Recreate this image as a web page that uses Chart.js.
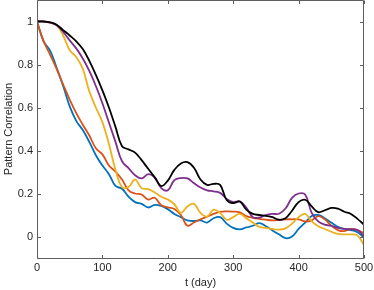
<!DOCTYPE html>
<html><head><meta charset="utf-8">
<script src="https://cdn.jsdelivr.net/npm/chart.js@4"></script>
<style>html,body{margin:0;padding:0;background:#fff}#wrap{width:374px;height:290px;position:relative}</style>
</head><body><div id="wrap"><canvas id="c"></canvas></div>
<script>
const days = [0,10,20,30,40,50,60,70,80,90,100,110,120,130,140,150,160,170,180,190,200,210,220,230,240,250,260,270,280,290,300,310,320,330,340,350,360,370,380,390,400,410,420,430,440,450,460,470,480,490,500];
const seriesBlue = [1.0,0.908,0.865,0.785,0.70,0.605,0.538,0.495,0.44,0.378,0.33,0.29,0.235,0.222,0.185,0.16,0.152,0.135,0.147,0.142,0.127,0.105,0.09,0.075,0.072,0.075,0.065,0.085,0.09,0.06,0.04,0.033,0.042,0.05,0.062,0.048,0.028,0.01,-0.008,0.0,0.035,0.065,0.095,0.1,0.085,0.065,0.045,0.035,0.03,0.02,-0.005];
const seriesOrange = [1.0,0.91,0.846,0.78,0.707,0.637,0.574,0.52,0.47,0.41,0.382,0.33,0.302,0.265,0.215,0.2,0.195,0.172,0.18,0.145,0.135,0.128,0.10,0.05,0.065,0.08,0.092,0.105,0.115,0.117,0.116,0.112,0.095,0.087,0.082,0.078,0.075,0.077,0.08,0.08,0.08,0.07,0.075,0.095,0.08,0.05,0.03,0.025,0.035,0.03,0.015];
const seriesYellow = [1.0,1.0,0.995,0.983,0.935,0.866,0.835,0.78,0.675,0.6,0.532,0.43,0.31,0.23,0.23,0.265,0.225,0.22,0.205,0.185,0.172,0.15,0.11,0.14,0.152,0.11,0.093,0.125,0.11,0.078,0.09,0.105,0.085,0.065,0.045,0.04,0.035,0.032,0.038,0.06,0.09,0.105,0.07,0.048,0.035,0.022,0.012,0.01,0.01,0.005,-0.04];
const seriesPurple = [1.0,1.0,0.995,0.982,0.952,0.912,0.875,0.828,0.77,0.70,0.62,0.53,0.44,0.35,0.318,0.285,0.27,0.29,0.275,0.225,0.215,0.262,0.272,0.27,0.248,0.228,0.215,0.21,0.203,0.175,0.16,0.163,0.135,0.09,0.088,0.10,0.105,0.106,0.13,0.18,0.2,0.195,0.11,0.07,0.055,0.05,0.04,0.035,0.033,0.03,0.0];
const seriesBlack = [1.0,1.0,0.996,0.985,0.96,0.935,0.908,0.872,0.817,0.752,0.68,0.60,0.51,0.42,0.405,0.39,0.355,0.315,0.275,0.235,0.26,0.31,0.34,0.346,0.32,0.265,0.24,0.245,0.24,0.17,0.155,0.163,0.125,0.105,0.10,0.096,0.09,0.078,0.085,0.12,0.16,0.171,0.14,0.113,0.122,0.133,0.13,0.115,0.105,0.082,0.055];
const xTicks = [0,100,200,300,400,500];
const yTicks = [0,0.2,0.4,0.6,0.8,1];
const yTickLabels = ['0','0.2','0.4','0.6','0.8','1'];

const FONT = 'Liberation Sans, Arial, Helvetica, sans-serif';
const TXT = '#262626';
const AX = '#5e5e5e';

function mk(label, vals, color, order){
  return {label, data: days.map((d,i)=>({x:d, y:vals[i]})), borderColor: color, backgroundColor: color,
    borderWidth: 1.8, pointRadius: 0, tension: 0.4, fill: false, order};
}

const boxPlugin = {
  id: 'box',
  afterDatasetsDraw(chart){
    const {ctx, chartArea: ca, scales: {x, y}} = chart;
    const L = Math.round(ca.left)+0.5, R = Math.round(ca.right)-0.5, T = Math.round(ca.top)+0.5, B = Math.round(ca.bottom)+0.5;
    ctx.save();
    ctx.strokeStyle = AX; ctx.lineWidth = 1;
    ctx.beginPath();
    ctx.moveTo(L,T); ctx.lineTo(R,T); ctx.lineTo(R,B); ctx.lineTo(L,B); ctx.closePath();
    const tl = 3.5;
    xTicks.forEach(v=>{ const px = Math.round(x.getPixelForValue(v))+0.5; ctx.moveTo(px,B); ctx.lineTo(px,B-tl); ctx.moveTo(px,T); ctx.lineTo(px,T+tl); });
    yTicks.forEach(v=>{ const py = Math.round(y.getPixelForValue(v))+0.5; ctx.moveTo(L,py); ctx.lineTo(L+tl,py); ctx.moveTo(R,py); ctx.lineTo(R-tl,py); });
    ctx.stroke();
    ctx.restore();
  }
};

new Chart(document.getElementById('c'), {
  type: 'line',
  data: { datasets: [
    mk('Series 1', seriesBlue, '#0072BD', 5),
    mk('Series 2', seriesOrange, '#D95319', 4),
    mk('Series 3', seriesYellow, '#EDB120', 3),
    mk('Series 4', seriesPurple, '#7E2F8E', 2),
    mk('Series 5', seriesBlack, '#000000', 1)
  ]},
  options: {
    responsive: true, maintainAspectRatio: false, animation: false, devicePixelRatio: 1,
    layout: { padding: { top: 0, right: 10, left: 0, bottom: 0 } },
    plugins: { legend: { display: false }, tooltip: { enabled: false } },
    scales: {
      x: {
        type: 'linear', min: 0, max: 500,
        afterBuildTicks(s){ s.ticks = xTicks.map(v=>({value:v})); },
        afterFit(s){ s.height = 32; s.paddingLeft = 0; s.paddingRight = 0; },
        grid: { display: false, drawTicks: false }, border: { display: false },
        ticks: { color: TXT, font: { family: FONT, size: 11 }, padding: 3, maxRotation: 0, autoSkip: false },
        title: { display: true, text: 't (day)', color: TXT, font: { family: FONT, size: 11 }, padding: { top: 0, bottom: 0 } }
      },
      y: {
        min: -0.1, max: 1.1,
        afterBuildTicks(s){ s.ticks = yTicks.map(v=>({value:v})); },
        afterFit(s){ s.width = 37; s.paddingTop = 0; s.paddingBottom = 0; },
        grid: { display: false, drawTicks: false }, border: { display: false },
        ticks: { color: TXT, font: { family: FONT, size: 11 }, padding: 4, autoSkip: false,
          callback(v){ const i = yTicks.findIndex(t=>Math.abs(t-v)<1e-9); return i>=0 ? yTickLabels[i] : ''; } },
        title: { display: true, text: 'Pattern Correlation', color: TXT, font: { family: FONT, size: 11 }, padding: { top: 2, bottom: 0 } }
      }
    }
  },
  plugins: [boxPlugin]
});
</script>
</body></html>
